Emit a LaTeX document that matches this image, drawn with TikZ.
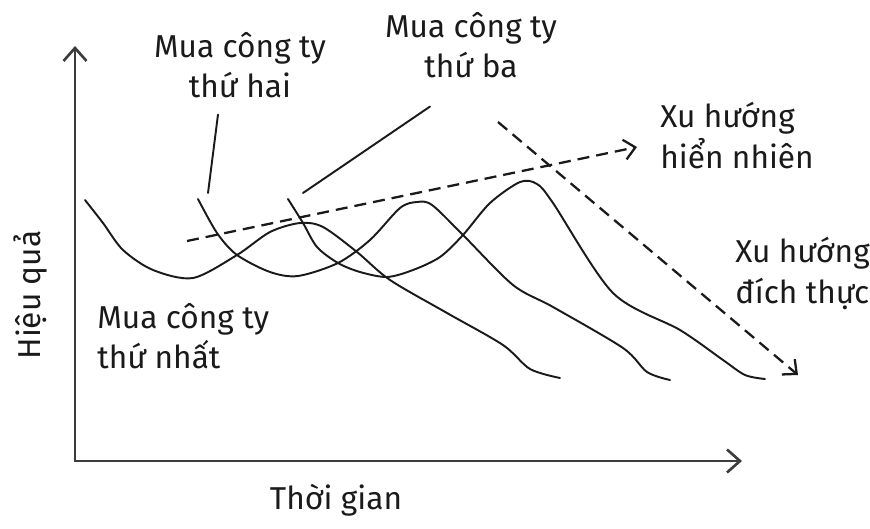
\documentclass[tikz,border=0pt]{standalone}
\usepackage{fontspec}
\setmainfont{Fira Sans}
\usetikzlibrary{arrows.meta}
\definecolor{ink}{HTML}{1A1A1A}
\definecolor{axisgray}{HTML}{3C3C3C}
\tikzset{
  wave/.style={ink,line width=1.1pt,line join=round,line cap=round},
  trend/.style={ink,line width=1.3pt,dash pattern=on 2.4mm off 1.4mm,-{Straight Barb[length=2.2mm,width=4mm]}},
  hand/.style={font=\fontsize{18}{23}\selectfont,color=ink,inner sep=0pt},
}
\begin{document}
\begin{tikzpicture}[x=0.2mm,y=-0.2mm]
\useasboundingbox (0,0) rectangle (870,529);
\coordinate (ytip) at (75,46);
\coordinate (orig) at (75,461);
\coordinate (xtip) at (742,461);
\draw[axisgray,line width=1.5pt,{Straight Barb[length=2.6mm,width=4.6mm]}-{Straight Barb[length=2.6mm,width=4.6mm]}] (ytip) -- (orig) -- (xtip);
\node[hand,rotate=90] (ylab) at (30,295) {Hiệu quả};
\node[hand] (xlab) at (336,500) {Thời gian};
% three acquisitions
\draw[wave] plot[smooth,tension=0.5] coordinates {(85,200) (103,223) (123,250) (153,270) (193,278) (237,255) (270,232) (300,223) (323,227) (357,252) (390,280) (447,313) (503,345) (530,369) (560,378)};
\draw[wave] plot[smooth,tension=0.5] coordinates {(198,199) (217,233) (237,255) (270,272) (298,276) (338,263) (370,240) (400,208) (417,202) (432,205) (463,235) (513,285) (553,307) (623,348) (647,372) (670,380)};
\draw[wave] plot[smooth,tension=0.5] coordinates {(288,199) (303,223) (317,247) (338,263) (360,272) (387,277) (413,270) (440,257) (463,235) (490,203) (520,182) (537,184) (553,203) (613,293) (680,330) (723,360) (745,375) (765,379)};
% labels
\node[hand,align=left,anchor=north west] (first) at (97,303) {Mua công ty\\thứ nhất};
\node[hand,align=center,anchor=north] (second) at (240,32) {Mua công ty\\thứ hai};
\node[hand,align=center,anchor=north] (third) at (471,12) {Mua công ty\\thứ ba};
\node[hand,align=left,anchor=north west] (natural) at (660,102) {Xu hướng\\hiển nhiên};
\node[hand,align=left,anchor=north west] (actual) at (735,237) {Xu hướng\\đích thực};
\coordinate (hit2) at (208,193);
\coordinate (hit3) at (303,193);
\draw[wave] (second.south) ++(-22,16) -- (hit2);
\draw[wave] (third.south) ++(-41,28) -- (hit3);
% trends
\coordinate (nat0) at (187,241);
\coordinate (nat1) at (637,147);
\coordinate (act0) at (498,122);
\coordinate (act1) at (798,375);
\draw[trend] (nat0) -- (nat1);
\draw[trend] (act0) -- (act1);
\end{tikzpicture}
\end{document}
